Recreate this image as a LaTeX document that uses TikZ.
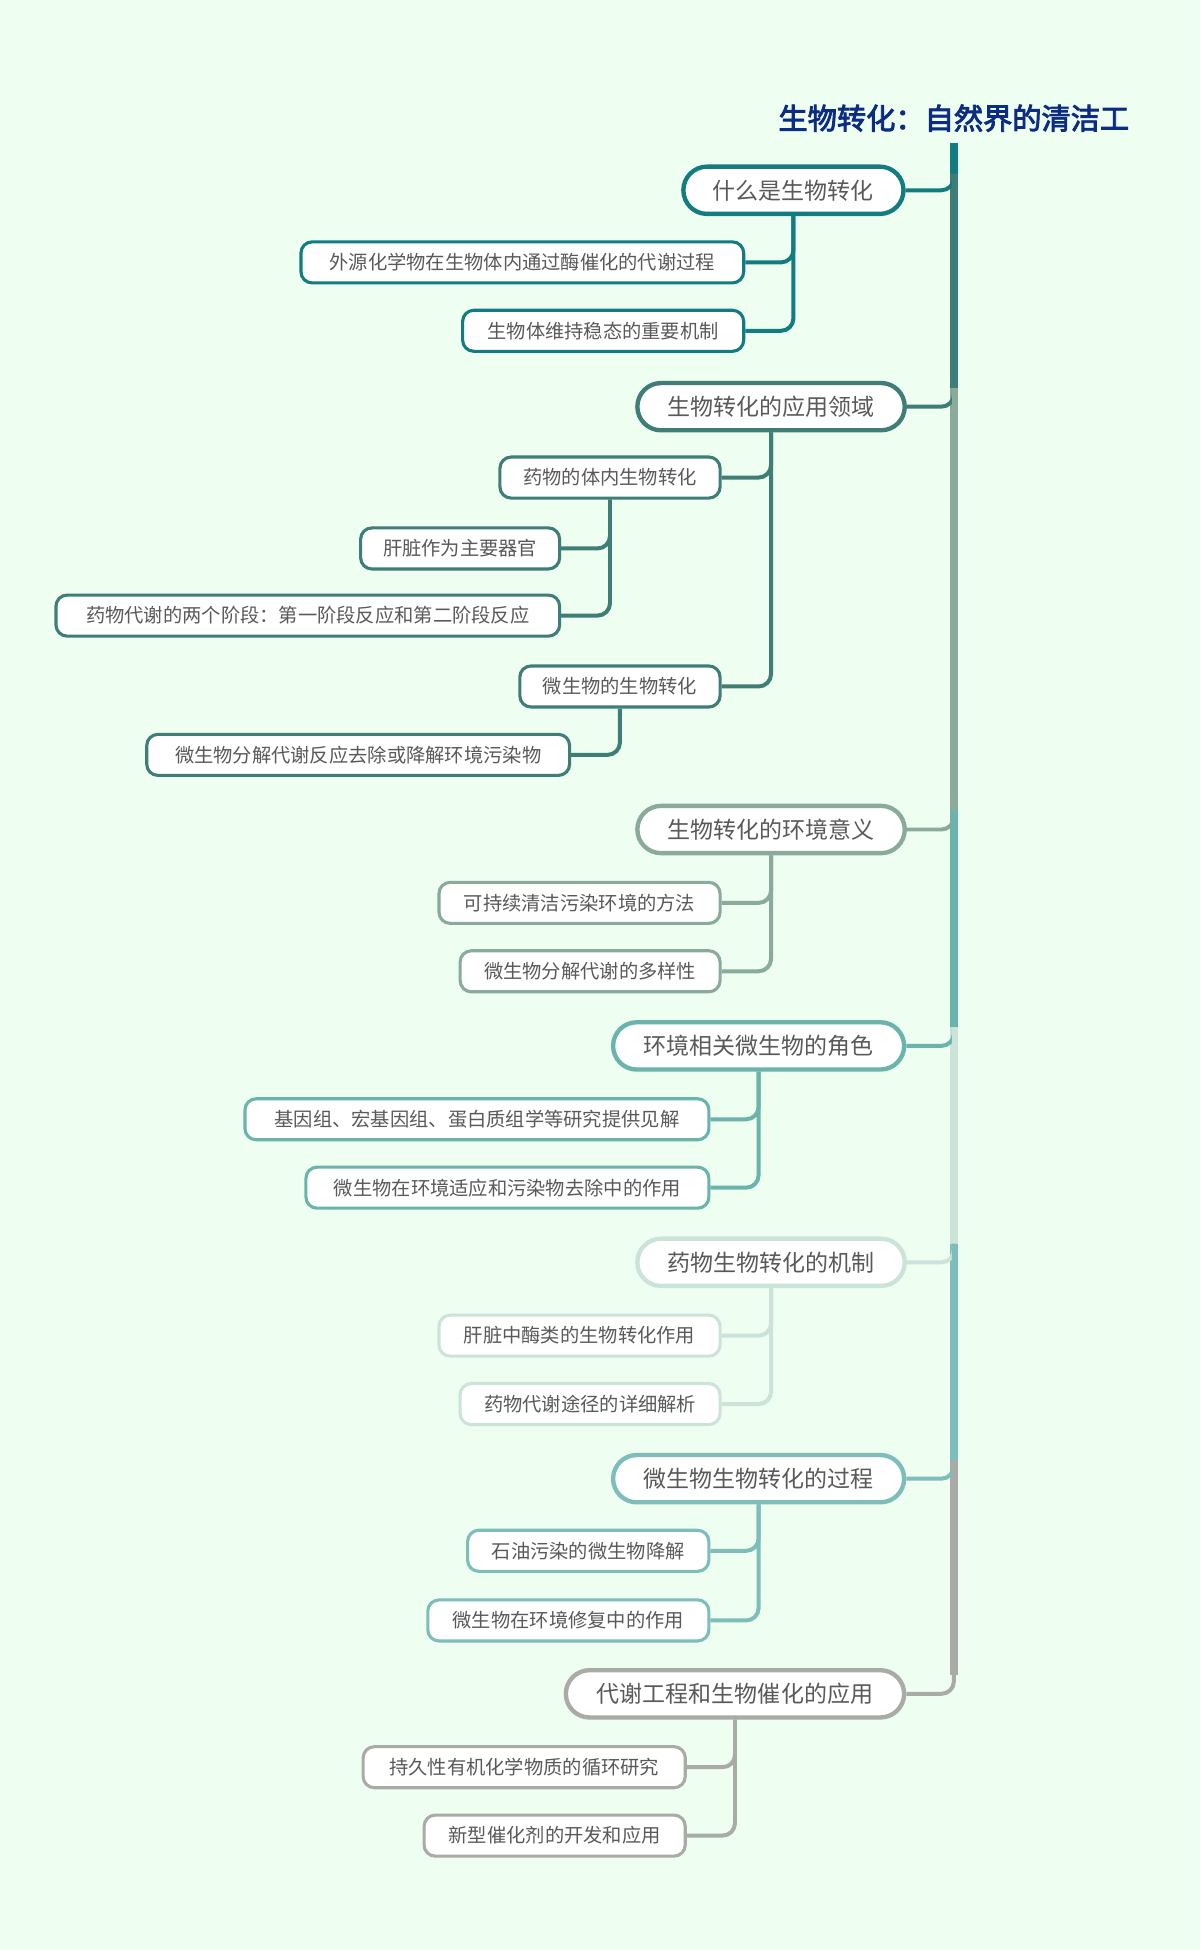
\documentclass[tikz,border=0pt]{standalone}
\usepackage{fontspec}
\setmainfont{Noto Sans CJK SC}
\newfontfamily\titlefont[AutoFakeBold=3]{Noto Sans CJK SC}
\usetikzlibrary{calc}
\definecolor{bg}{HTML}{EEFEF1}
\definecolor{cA}{HTML}{137C80}
\definecolor{cB}{HTML}{3F7E76}
\definecolor{cC}{HTML}{8AAA9B}
\definecolor{cD}{HTML}{6AB4AC}
\definecolor{cE}{HTML}{CCE3DA}
\definecolor{cF}{HTML}{7DBDBA}
\definecolor{cG}{HTML}{A8ABA6}
\definecolor{tx}{HTML}{595959}
\definecolor{navy}{HTML}{0C2C84}
\tikzset{
 mainbox/.style={draw=#1,line width=3.5pt,fill=white,rounded corners=19pt,minimum height=38pt,font=\fontsize{18.5}{20}\selectfont,text=tx,inner sep=0pt},
 subbox/.style={draw=#1,line width=2.5pt,fill=white,rounded corners=9pt,minimum height=33pt,font=\fontsize{15.5}{17}\selectfont,text=tx,inner sep=0pt},
 link/.style={draw=#1,line width=3.2pt,rounded corners=10pt},
 trunk/.style={draw=#1,line width=7pt}
}
\begin{document}
\begin{tikzpicture}[x=1pt,y=-1pt]
\fill[bg] (0,0) rectangle (965,1568);
\useasboundingbox (0,0) rectangle (965,1568);
\node[font=\titlefont\bfseries\fontsize{23.5}{26}\selectfont,text=navy] (title) at (767,95) {生物转化：自然界的清洁工};
% trunk
\coordinate (t0) at (767,115);
\coordinate (t1) at (767,140);
\coordinate (t2) at (767,312);
\coordinate (t3) at (767,652);
\coordinate (t4) at (767,826);
\coordinate (t5) at (767,1000);
\coordinate (t6) at (767,1174);
\coordinate (t7) at (767,1347);
\draw[trunk=cA] (t0)--(t1);
\draw[trunk=cB] (t1)--(t2);
\draw[trunk=cC] (t2)--(t3);
\draw[trunk=cD] (t3)--(t4);
\draw[trunk=cE] (t4)--(t5);
\draw[trunk=cF] (t5)--(t6);
\draw[trunk=cG] (t6)--(t7);
% main nodes
\node[mainbox=cA,minimum width=177pt] (m1) at (638,153) {什么是生物转化};
\node[mainbox=cB,minimum width=215pt] (m2) at (620,327) {生物转化的应用领域};
\node[mainbox=cC,minimum width=215pt] (m3) at (620,667) {生物转化的环境意义};
\node[mainbox=cD,minimum width=234pt] (m4) at (610,841) {环境相关微生物的角色};
\node[mainbox=cE,minimum width=215pt] (m5) at (620,1015) {药物生物转化的机制};
\node[mainbox=cF,minimum width=234pt] (m6) at (610,1189) {微生物生物转化的过程};
\node[mainbox=cG,minimum width=272pt] (m7) at (591,1362) {代谢工程和生物催化的应用};
\draw[link=cA] (m1.east) -| (t0);
\draw[link=cB] (m2.east) -| (t1);
\draw[link=cC] (m3.east) -| (t2);
\draw[link=cD] (m4.east) -| (t3);
\draw[link=cE] (m5.east) -| (t4);
\draw[link=cF] (m6.east) -| (t5);
\draw[link=cG] (m7.east) -| (t6);
% sub nodes
\node[subbox=cA,minimum width=356pt] (a1) at (420,211) {外源化学物在生物体内通过酶催化的代谢过程};
\node[subbox=cA,minimum width=226pt] (a2) at (485,266) {生物体维持稳态的重要机制};
\node[subbox=cB,minimum width=177pt] (b1) at (490.5,384) {药物的体内生物转化};
\node[subbox=cB,minimum width=160pt] (b11) at (370,441) {肝脏作为主要器官};
\node[subbox=cB,minimum width=405pt] (b12) at (247.5,495) {药物代谢的两个阶段：第一阶段反应和第二阶段反应};
\node[subbox=cB,minimum width=161pt] (b2) at (498.5,552) {微生物的生物转化};
\node[subbox=cB,minimum width=340pt] (b21) at (288,607) {微生物分解代谢反应去除或降解环境污染物};
\node[subbox=cC,minimum width=226pt] (c1) at (466,726) {可持续清洁污染环境的方法};
\node[subbox=cC,minimum width=209pt] (c2) at (474.5,781) {微生物分解代谢的多样性};
\node[subbox=cD,minimum width=373pt] (d1) at (383.5,900) {基因组、宏基因组、蛋白质组学等研究提供见解};
\node[subbox=cD,minimum width=324pt] (d2) at (408,955) {微生物在环境适应和污染物去除中的作用};
\node[subbox=cE,minimum width=226pt] (e1) at (466,1074) {肝脏中酶类的生物转化作用};
\node[subbox=cE,minimum width=209pt] (e2) at (474.5,1129) {药物代谢途径的详细解析};
\node[subbox=cF,minimum width=194pt] (f1) at (473,1247) {石油污染的微生物降解};
\node[subbox=cF,minimum width=226pt] (f2) at (457,1303) {微生物在环境修复中的作用};
\node[subbox=cG,minimum width=259pt] (g1) at (421.5,1421) {持久性有机化学物质的循环研究};
\node[subbox=cG,minimum width=210pt] (g2) at (446,1476) {新型催化剂的开发和应用};
\foreach \c/\p/\col in {a1/m1/cA,a2/m1/cA,b1/m2/cB,b2/m2/cB,c1/m3/cC,c2/m3/cC,d1/m4/cD,d2/m4/cD,e1/m5/cE,e2/m5/cE,f1/m6/cF,f2/m6/cF,g1/m7/cG,g2/m7/cG,b11/b1/cB,b12/b1/cB,b21/b2/cB}
  \draw[link=\col] (\c.east) -| (\p.south);
\end{tikzpicture}
\end{document}
